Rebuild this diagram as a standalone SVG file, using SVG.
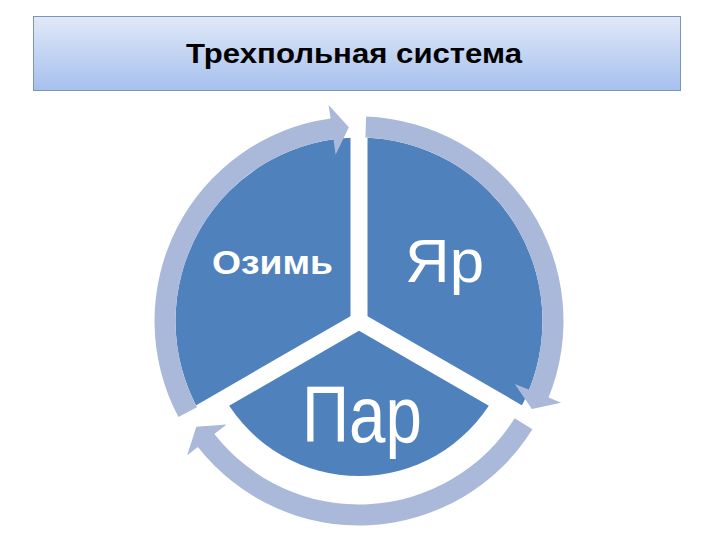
<svg xmlns="http://www.w3.org/2000/svg" width="720" height="540" viewBox="0 0 720 540">
  <defs>
    <linearGradient id="titleGrad" x1="0" y1="0" x2="0" y2="1">
      <stop offset="0" stop-color="#e0e9f8"/>
      <stop offset="1" stop-color="#a6c0ed"/>
    </linearGradient>
  </defs>
  <style>
    .sector { fill: #4f81bd; }
    .ring { fill: #aab9da; }
    .gap { stroke: #ffffff; stroke-width: 17; fill: none; }
    .lbl { fill: #ffffff; font-family: "Liberation Sans", "DejaVu Sans", sans-serif; }
    .title { fill: #000000; font-family: "Liberation Sans", "DejaVu Sans", sans-serif; font-weight: bold; font-size: 27px; }
  </style>
  <rect width="720" height="540" fill="#ffffff"/>

  <g id="title">
    <rect x="33.5" y="16.5" width="647" height="74" fill="url(#titleGrad)" stroke="#8094b4" stroke-width="1"/>
    <text class="title" x="186" y="63" textLength="336" lengthAdjust="spacingAndGlyphs">Трехпольная система</text>
  </g>

  <g id="node-ozim">
    <path class="sector" d="M 359 321 L 200.08 412.75 A 183.5 183.5 0 0 1 359 137.5 Z"/>
  </g>
  <g id="node-yar">
    <path class="sector" d="M 359 321 L 359 137.5 A 183.5 183.5 0 0 1 517.92 412.75 Z"/>
  </g>
  <g id="node-par">
    <path class="sector" d="M 359 321 L 493.23 398.5 A 155 155 0 0 1 224.77 398.5 Z"/>
  </g>

  <g id="gaps">
    <line class="gap" x1="359" y1="321" x2="359" y2="121"/>
    <line class="gap" x1="359" y1="321" x2="532.21" y2="421"/>
    <line class="gap" x1="359" y1="321" x2="185.79" y2="421"/>
    <circle cx="359" cy="321" r="9" fill="#ffffff"/>
  </g>

  <g id="connectors">
    <path class="ring" d="M 366.14 116.62 A 204.5 204.5 0 0 1 548.61 397.61 L 561.13 402.66 L 531.85 409.07 L 514.77 383.93 L 529.14 389.74 A 183.5 183.5 0 0 0 365.40 137.61 Z"/>
    <path class="ring" d="M 532.43 429.37 A 204.5 204.5 0 0 1 197.85 446.90 L 187.21 455.21 L 196.30 426.66 L 226.61 424.43 L 214.40 433.97 A 183.5 183.5 0 0 0 514.62 418.24 Z"/>
    <path class="ring" d="M 178.44 417.01 A 204.5 204.5 0 0 1 330.54 118.49 L 328.66 105.12 L 348.85 127.27 L 335.62 154.64 L 333.46 139.29 A 183.5 183.5 0 0 0 196.98 407.15 Z"/>
  </g>

  <g id="labels">
    <text class="lbl" x="212" y="274" font-size="33" font-weight="bold" textLength="121" lengthAdjust="spacingAndGlyphs">Озимь</text>
    <text class="lbl" x="405" y="282" font-size="61" textLength="79" lengthAdjust="spacingAndGlyphs">Яр</text>
    <text class="lbl" x="302" y="442" font-size="79" textLength="120" lengthAdjust="spacingAndGlyphs">Пар</text>
  </g>
</svg>
